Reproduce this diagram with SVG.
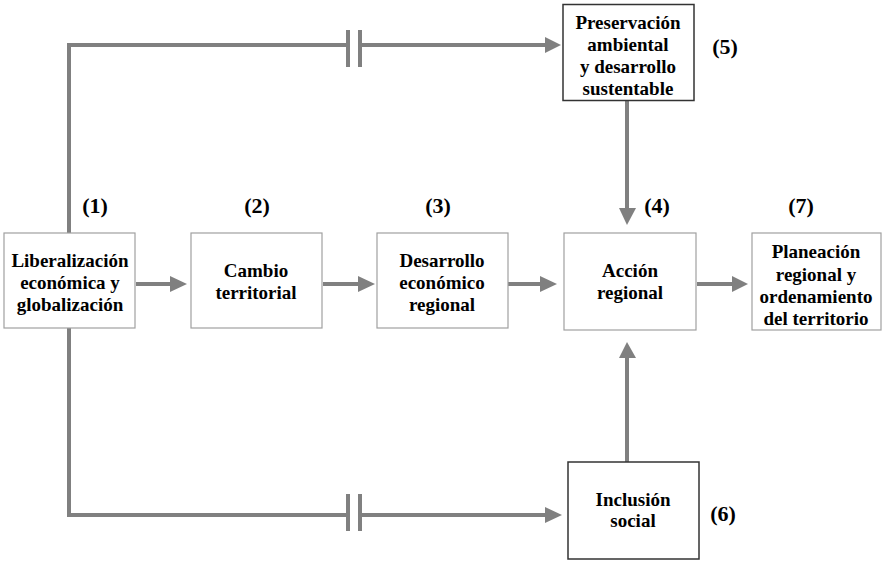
<svg xmlns="http://www.w3.org/2000/svg" width="883" height="561" viewBox="0 0 883 561">
<rect width="883" height="561" fill="#fff"/>
<g id="connectors" fill="none" stroke="#808080" stroke-width="4">
<polyline points="69,233 69,45 346,45"/>
<line x1="362" y1="45" x2="546" y2="45"/>
<line x1="348" y1="30" x2="348" y2="67"/>
<line x1="360" y1="30" x2="360" y2="67"/>
<polyline points="69,328 69,515 346,515"/>
<line x1="362" y1="515" x2="546" y2="515"/>
<line x1="348" y1="494" x2="348" y2="531"/>
<line x1="360" y1="494" x2="360" y2="531"/>
<line x1="627" y1="101" x2="627" y2="209"/>
<line x1="627" y1="462" x2="627" y2="357"/>
<line x1="136" y1="284" x2="171" y2="284"/>
<line x1="323" y1="284" x2="359" y2="284"/>
<line x1="508" y1="284" x2="541" y2="284"/>
<line x1="697" y1="284" x2="733" y2="284"/>
<g fill="#808080" stroke="none">
<polygon points="545,37 561,45 545,53"/>
<polygon points="545,507 562,515 545,523"/>
<polygon points="619,208 636,208 627,225"/>
<polygon points="619,358 636,358 627,342"/>
<polygon points="170,276 187,284 170,292"/>
<polygon points="358,276 375,284 358,292"/>
<polygon points="540,276 557,284 540,292"/>
<polygon points="732,276 748,284 732,292"/>
</g>
</g>
<g id="n1">
<rect x="4" y="233" width="131" height="95" fill="#fff" stroke="#a0a0a0" stroke-width="1.2"/>
<text font-family="Liberation Serif" font-weight="bold" font-size="19" text-anchor="middle" x="70" y="267">Liberalización</text>
<text font-family="Liberation Serif" font-weight="bold" font-size="19" text-anchor="middle" x="70" y="289">económica y</text>
<text font-family="Liberation Serif" font-weight="bold" font-size="19" text-anchor="middle" x="70" y="311">globalización</text>
<text font-family="Liberation Serif" font-weight="bold" font-size="22" text-anchor="middle" x="95" y="213">(1)</text>
</g>
<g id="n2">
<rect x="191" y="233" width="131" height="95" fill="#fff" stroke="#a0a0a0" stroke-width="1.2"/>
<text font-family="Liberation Serif" font-weight="bold" font-size="19" text-anchor="middle" x="256" y="277">Cambio</text>
<text font-family="Liberation Serif" font-weight="bold" font-size="19" text-anchor="middle" x="256" y="299">territorial</text>
<text font-family="Liberation Serif" font-weight="bold" font-size="22" text-anchor="middle" x="257" y="213">(2)</text>
</g>
<g id="n3">
<rect x="377" y="233" width="131" height="95" fill="#fff" stroke="#a0a0a0" stroke-width="1.2"/>
<text font-family="Liberation Serif" font-weight="bold" font-size="19" text-anchor="middle" x="442" y="267">Desarrollo</text>
<text font-family="Liberation Serif" font-weight="bold" font-size="19" text-anchor="middle" x="442" y="289">económico</text>
<text font-family="Liberation Serif" font-weight="bold" font-size="19" text-anchor="middle" x="442" y="311">regional</text>
<text font-family="Liberation Serif" font-weight="bold" font-size="22" text-anchor="middle" x="438" y="213">(3)</text>
</g>
<g id="n4">
<rect x="564" y="233" width="132" height="97" fill="#fff" stroke="#a0a0a0" stroke-width="1.2"/>
<text font-family="Liberation Serif" font-weight="bold" font-size="19" text-anchor="middle" x="630" y="277">Acción</text>
<text font-family="Liberation Serif" font-weight="bold" font-size="19" text-anchor="middle" x="630" y="299">regional</text>
<text font-family="Liberation Serif" font-weight="bold" font-size="22" text-anchor="middle" x="657" y="213">(4)</text>
</g>
<g id="n7">
<rect x="752" y="233" width="129" height="97" fill="#fff" stroke="#a0a0a0" stroke-width="1.2"/>
<text font-family="Liberation Serif" font-weight="bold" font-size="19" text-anchor="middle" x="816" y="258">Planeación</text>
<text font-family="Liberation Serif" font-weight="bold" font-size="19" text-anchor="middle" x="816" y="280.5">regional y</text>
<text font-family="Liberation Serif" font-weight="bold" font-size="19" text-anchor="middle" x="816" y="303">ordenamiento</text>
<text font-family="Liberation Serif" font-weight="bold" font-size="19" text-anchor="middle" x="816" y="325">del territorio</text>
<text font-family="Liberation Serif" font-weight="bold" font-size="22" text-anchor="middle" x="801" y="213">(7)</text>
</g>
<g id="n5">
<rect x="563" y="4.5" width="131" height="96" fill="#fff" stroke="#333" stroke-width="1.5"/>
<text font-family="Liberation Serif" font-weight="bold" font-size="19" text-anchor="middle" x="628" y="29">Preservación</text>
<text font-family="Liberation Serif" font-weight="bold" font-size="19" text-anchor="middle" x="628" y="51">ambiental</text>
<text font-family="Liberation Serif" font-weight="bold" font-size="19" text-anchor="middle" x="628" y="73">y desarrollo</text>
<text font-family="Liberation Serif" font-weight="bold" font-size="19" text-anchor="middle" x="628" y="94.5">sustentable</text>
<text font-family="Liberation Serif" font-weight="bold" font-size="22" text-anchor="middle" x="725" y="54">(5)</text>
</g>
<g id="n6">
<rect x="568" y="462" width="131" height="97" fill="#fff" stroke="#333" stroke-width="1.5"/>
<text font-family="Liberation Serif" font-weight="bold" font-size="19" text-anchor="middle" x="633" y="506">Inclusión</text>
<text font-family="Liberation Serif" font-weight="bold" font-size="19" text-anchor="middle" x="633" y="527">social</text>
<text font-family="Liberation Serif" font-weight="bold" font-size="22" text-anchor="middle" x="723" y="521">(6)</text>
</g>
</svg>
